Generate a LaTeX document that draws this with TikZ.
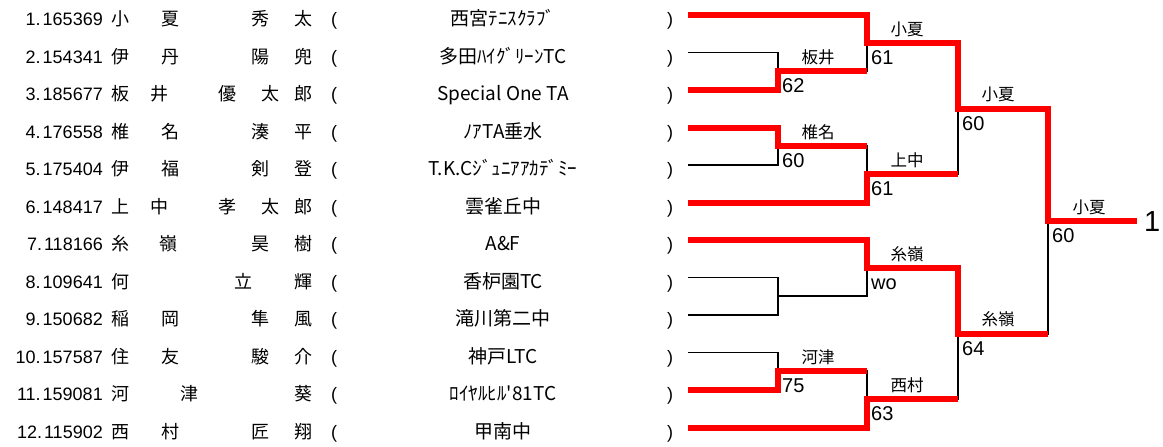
\documentclass[tikz,border=0pt]{standalone}
\usepackage{fontspec}
\setmainfont{Liberation Sans}
\newfontfamily\jp{Noto Sans CJK JP}

\begin{document}
\begin{tikzpicture}[x=1pt,y=-1pt]
\tikzset{lose/.style={draw, line width=1.6pt},
  win/.style={draw=red, line width=6pt},
  nmchar/.style={font=\jp\fontsize{18}{20}\selectfont, anchor=base, inner sep=0pt},
  regno/.style={font=\fontsize{18}{20}\selectfont, anchor=base east, inner sep=0pt},
  clubname/.style={font=\jp\fontsize{19}{21}\selectfont, anchor=base, inner sep=0pt},
  paren/.style={font=\fontsize{18}{20}\selectfont, anchor=base, inner sep=0pt},
  wname/.style={font=\jp\fontsize{16.5}{18}\selectfont, anchor=south, inner sep=0pt},
  score/.style={font=\fontsize{20}{22}\selectfont, anchor=base west, inner sep=0pt}}
\useasboundingbox (0,0) rectangle (1163,447);
% players
\foreach \i/\rid/\cname in {1/165369/西宮ﾃﾆｽｸﾗﾌﾞ, 2/154341/多田ﾊｲｸﾞﾘｰﾝTC, 3/185677/Special One TA,
  4/176558/ﾉｱTA垂水, 5/175404/T.K.Cｼﾞｭﾆｱｱｶﾃﾞﾐｰ, 6/148417/雲雀丘中, 7/118166/A\&F, 8/109641/香枦園TC,
  9/150682/滝川第二中, 10/157587/神戸LTC, 11/159081/ﾛｲﾔﾙﾋﾙ'81TC, 12/115902/甲南中}
{
  \coordinate (s\i) at (688,37.5*\i-22.5);
  \node[regno] (no\i) at (103,37.5*\i-12) {\i.\kern2pt\rid};
  \node[paren] (po\i) at (334,37.5*\i-12) {(};
  \node[clubname] (cl\i) at (503,37.5*\i-12) {\cname};
  \node[paren] (pc\i) at (670,37.5*\i-12) {)};
}
\foreach \i/\nm in {1/{120/小,170/夏,260/秀,303/太}, 2/{120/伊,170/丹,260/陽,303/兜},
  3/{120/板,159/井,227/優,270/太,303/郎}, 4/{120/椎,170/名,260/湊,303/平},
  5/{120/伊,170/福,260/剣,303/登}, 6/{120/上,159/中,227/孝,270/太,303/郎},
  7/{120/糸,168/嶺,260/昊,303/樹}, 8/{120/何,243/立,303/輝}, 9/{120/稲,170/岡,260/隼,303/風},
  10/{120/住,170/友,260/駿,303/介}, 11/{120/河,189/津,303/葵}, 12/{120/西,170/村,260/匠,303/翔}}
  \foreach \px/\pc [count=\k] in \nm
    \node[nmchar] (nm\i-\k) at (\px,37.5*\i-12) {\pc};
% match points
\coordinate (r1a) at (778,71.25);
\coordinate (r1b) at (778,146.25);
\coordinate (r1c) at (778,296.25);
\coordinate (r1d) at (778,371.25);
\coordinate (r2a) at (867,43.125);
\coordinate (r2b) at (867,174.375);
\coordinate (r2c) at (867,268.125);
\coordinate (r2d) at (867,399.375);
\coordinate (r3a) at (958,108.75);
\coordinate (r3b) at (958,333.75);
\coordinate (fin) at (1048,221.25);
\coordinate (champ) at (1137,221.25);
% bracket
\draw[lose] (s2) -| (r1a) (s3) -| (r1a) (s4) -| (r1b) (s5) -| (r1b);
\draw[lose] (s8) -| (r1c) (s9) -| (r1c) (s10) -| (r1d) (s11) -| (r1d);
\draw[lose] (s1) -| (r2a) (r1a) -| (r2a) (r1b) -| (r2b) (s6) -| (r2b);
\draw[lose] (s7) -| (r2c) (r1c) -| (r2c) (r1d) -| (r2d) (s12) -| (r2d);
\draw[lose] (r2a) -| (r3a) (r2b) -| (r3a) (r2c) -| (r3b) (r2d) -| (r3b);
\draw[lose] (r3a) -| (fin) (r3b) -| (fin) (fin) -- (champ);
% winners
\draw[win] (s1) -| (r2a) -| (r3a) -| (fin) -- (champ);
\draw[win] (s3) -| (r1a) -- (r1a -| r2a);
\draw[win] (s4) -| (r1b) -- (r1b -| r2b);
\draw[win] (s6) -| (r2b) -- (r2b -| r3a);
\draw[win] (s7) -| (r2c) -| (r3b) -- (r3b -| fin);
\draw[win] (s11) -| (r1d) -- (r1d -| r2d);
\draw[win] (s12) -| (r2d) -- (r2d -| r3b);
% names and scores
\node[wname] (w1a) at (818,65) {板井};
\node[wname] (w1b) at (818,140) {椎名};
\node[wname] (w1d) at (818,365) {河津};
\node[wname] (w2a) at (907,37) {小夏};
\node[wname] (w2b) at (907,168) {上中};
\node[wname] (w2c) at (907,262) {糸嶺};
\node[wname] (w2d) at (907,393) {西村};
\node[wname] (w3a) at (998,102) {小夏};
\node[wname] (w3b) at (998,327) {糸嶺};
\node[wname] (wfin) at (1089,215) {小夏};
\node[score] (sc1a) at (782,92) {62};
\node[score] (sc1b) at (782,167) {60};
\node[score] (sc1d) at (782,392) {75};
\node[score] (sc2a) at (871,64) {61};
\node[score] (sc2b) at (871,195) {61};
\node[score] (sc2c) at (871,289) {wo};
\node[score] (sc2d) at (871,420) {63};
\node[score] (sc3a) at (962,130) {60};
\node[score] (sc3b) at (962,355) {64};
\node[score] (scfin) at (1052,242) {60};
\node[font=\fontsize{29}{31}\selectfont, anchor=west, inner sep=0pt] (rank) at (1144,222) {1};
\end{tikzpicture}
\end{document}
